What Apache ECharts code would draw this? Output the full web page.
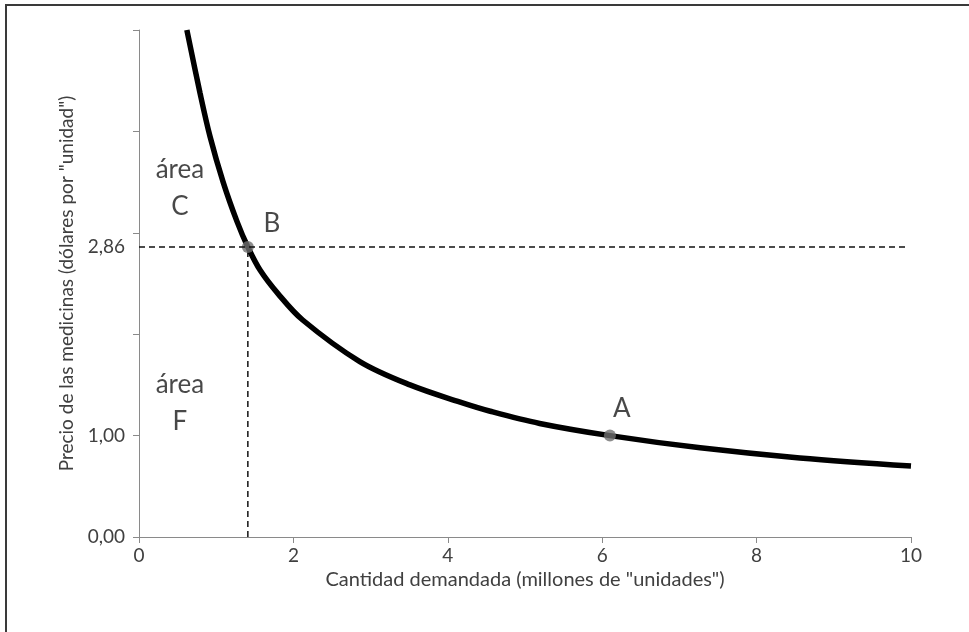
<!DOCTYPE html>
<html>
<head>
<meta charset="utf-8">
<script src="https://cdn.jsdelivr.net/npm/echarts@6/dist/echarts.min.js"></script>
<style>
  html, body { margin: 0; padding: 0; background: #fff; }
  #chart { position: absolute; left: 0; top: 0; width: 969px; height: 632px; }
  .frame {
    position: absolute; left: 5px; top: 4px; right: 0; bottom: 0;
    border-top: 2px solid #3a3a3a; border-left: 2px solid #3a3a3a;
    pointer-events: none;
  }
</style>
</head>
<body>
<div id="chart"></div>
<div class="frame"></div>
<script>
// demand curve
const qCurve = [0.62, 0.79, 0.92, 1.09, 1.27, 1.41, 1.57, 1.80, 2.12, 2.86, 3.51, 4.16, 4.55, 5.19, 6.10, 7.27, 8.56, 10]
const pCurve = [5.00, 4.38, 3.95, 3.50, 3.11, 2.86, 2.63, 2.40, 2.14, 1.73, 1.50, 1.33, 1.24, 1.12, 1.00, 0.88, 0.78, 0.70]

// marked points
const pointNames = ['A', 'B']
const pointQ = [6.10, 1.41]
const pointP = [1.00, 2.86]

// area annotations
const areaNames = ['área\nC', 'área\nF']
const areaQ = [0.53, 0.53]
const areaP = [3.44, 1.32]

const yTickLabels = { 0: '0,00', 1: '1,00' }
const priceB = 2.86
const priceBLabel = '2,86'

const textColor = '#404040'
const font = 'Lato, "Open Sans", sans-serif'

const chart = echarts.init(document.getElementById('chart'))

chart.setOption({
  animation: false,
  grid: { left: 139, right: 58, top: 30, bottom: 95, outerBoundsMode: 'none' },
  xAxis: {
    type: 'value',
    min: 0,
    max: 10,
    interval: 2,
    name: 'Cantidad demandada (millones de "unidades")',
    nameLocation: 'middle',
    nameGap: 23,
    nameTextStyle: { color: textColor, fontSize: 20, fontFamily: font },
    axisLine: { lineStyle: { color: '#8a8a8a', width: 1 } },
    axisTick: { show: true, length: 6, lineStyle: { color: '#8a8a8a' } },
    axisLabel: { color: textColor, fontSize: 19, fontFamily: font, margin: 9 },
    splitLine: { show: false }
  },
  yAxis: {
    type: 'value',
    min: 0,
    max: 5,
    interval: 1,
    name: 'Precio de las medicinas (dólares por "unidad")',
    nameLocation: 'middle',
    nameGap: 62,
    nameTextStyle: { color: textColor, fontSize: 19, fontFamily: font },
    axisLine: { show: true, lineStyle: { color: '#8a8a8a', width: 1 } },
    axisTick: { show: true, length: 6, lineStyle: { color: '#8a8a8a' } },
    axisLabel: {
      color: textColor, fontSize: 19, fontFamily: font, margin: 14,
      formatter: v => yTickLabels[v] || ''
    },
    splitLine: { show: false }
  },
  series: [
    {
      type: 'line',
      name: 'guia',
      symbol: 'none',
      data: [[pointQ[1], 0], [pointQ[1], priceB]],
      lineStyle: { color: '#111', width: 1.5, type: [6, 4] },
      markLine: {
        silent: true,
        symbol: 'none',
        lineStyle: { color: '#111', width: 1.5, type: [6, 4] },
        label: {
          show: true,
          position: 'start',
          formatter: priceBLabel,
          color: textColor,
          fontSize: 19,
          fontFamily: font,
          distance: 14
        },
        data: [[{ coord: [0, priceB] }, { coord: [9.95, priceB] }]]
      },
      z: 2
    },
    {
      type: 'line',
      name: 'demanda',
      smooth: 0.35,
      symbol: 'none',
      data: qCurve.map((q, i) => [q, pCurve[i]]),
      lineStyle: { color: '#000', width: 5.5 },
      z: 3
    },
    {
      type: 'scatter',
      name: 'puntos',
      symbolSize: 12,
      itemStyle: { color: '#6f6f6f' },
      data: pointNames.map((n, i) => ({
        name: n,
        value: [pointQ[i], pointP[i]],
        label: {
          show: true,
          formatter: n,
          position: 'top',
          offset: n === 'A' ? [12, -3] : [24, 1],
          color: '#1a1a1a',
          fontSize: 26,
          fontFamily: font
        }
      })),
      z: 4
    },
    {
      type: 'scatter',
      name: 'areas',
      symbolSize: 0,
      silent: true,
      data: areaNames.map((n, i) => ({ name: n, value: [areaQ[i], areaP[i]] })),
      label: {
        show: true,
        position: 'inside',
        formatter: p => p.name,
        color: '#1a1a1a',
        fontSize: 26,
        lineHeight: 37,
        fontFamily: font
      },
      z: 4
    }
  ]
})
</script>
</body>
</html>
